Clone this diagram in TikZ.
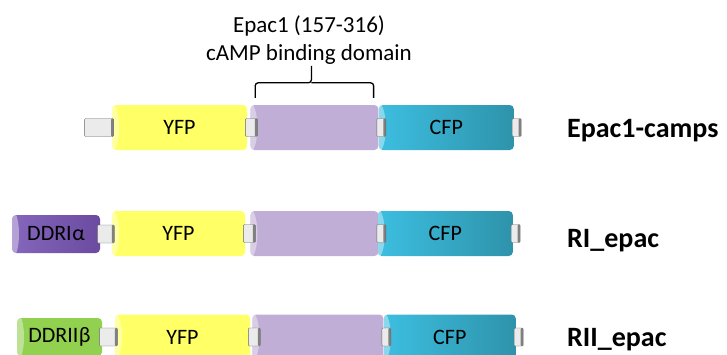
\documentclass[tikz,border=0pt]{standalone}
\usepackage{fontspec}
\setmainfont{Carlito}
\usetikzlibrary{positioning}
\definecolor{yfpcol}{HTML}{FFFF66}
\definecolor{epaccol}{HTML}{C0AED6}
\definecolor{cfpA}{HTML}{3DBEE0}
\definecolor{cfpB}{HTML}{2E93AB}
\definecolor{ddrA}{HTML}{8466BC}
\definecolor{ddrB}{HTML}{6A4BA0}
\definecolor{ddrgreen}{HTML}{92D050}

\begin{document}
\begin{tikzpicture}[x=1pt, y=-1pt,
  dom/.style={rounded corners=4pt, minimum height=45pt, inner sep=0pt, font=\fontsize{22}{24}\selectfont,
    path picture={\fill[white, opacity=.4] (path picture bounding box.west) ellipse (7pt and 24pt);}},
  ddr/.style={dom, minimum height=38pt},
  linker/.style={draw=black!60, fill=black!8, rounded corners=1pt, minimum height=18pt, inner sep=0pt,
    path picture={\fill[black!50] ([xshift=-2.5pt]path picture bounding box.north east) rectangle (path picture bounding box.south east);}},
  lbl/.style={font=\fontsize{28}{28}\selectfont\bfseries, inner sep=0pt, anchor=base west},
  bracket/.style={line width=1.3pt, rounded corners=3pt}]
\useasboundingbox (0,0) rectangle (727,354);

\node[dom, fill=yfpcol, minimum width=135pt] (YFPa) at (179.5,127.5) {YFP};
\node[dom, fill=epaccol, minimum width=128pt, right=3pt of YFPa] (EPACa) {};
\node[dom, left color=cfpA, right color=cfpB, minimum width=135pt, right=0pt of EPACa] (CFPa) {CFP};
\node[linker, minimum width=29pt, anchor=east] (Na) at ([xshift=2pt]YFPa.west) {};
\node[linker, minimum width=12pt, anchor=west] (Ma) at ([xshift=-2pt]YFPa.east) {};
\node[linker, minimum width=9pt, anchor=west] (Ka) at ([xshift=-2pt]EPACa.east) {};
\node[linker, minimum width=9pt, anchor=west] (Ca) at ([xshift=-2pt]CFPa.east) {};
\node[lbl] (NAMEa) at (567,137) {Epac1-camps};

\draw[bracket] ([xshift=5pt,yshift=7pt]EPACa.north west) |- ([xshift=-3pt,yshift=22pt]EPACa.north) -- ([xshift=-3pt,yshift=39pt]EPACa.north);
\draw[bracket] ([xshift=-5pt,yshift=7pt]EPACa.north east) |- ([xshift=-3pt,yshift=22pt]EPACa.north);
\node[font=\fontsize{23}{28}\selectfont, align=center, inner sep=0pt, anchor=base] (DOMtxt) at (309,60) {Epac1 (157-316)\\cAMP binding domain};

\node[dom, fill=yfpcol, minimum width=133pt] (YFPb) at (178.5,233.5) {YFP};
\node[dom, fill=epaccol, minimum width=128pt, right=5pt of YFPb] (EPACb) {};
\node[dom, left color=cfpA, right color=cfpB, minimum width=135pt, right=-1pt of EPACb] (CFPb) {CFP};
\node[ddr, left color=ddrA, right color=ddrB, minimum width=88pt] (DDRb) at (56,234) {DDRI\kern.5pt α};
\node[linker, minimum width=17pt, anchor=west] (Nb) at ([xshift=-3pt]DDRb.east) {};
\node[linker, minimum width=12pt, anchor=west] (Mb) at ([xshift=-2pt]YFPb.east) {};
\node[linker, minimum width=9pt, anchor=west] (Kb) at ([xshift=-2pt]EPACb.east) {};
\node[linker, minimum width=9pt, anchor=west] (Cb) at ([xshift=-2pt]CFPb.east) {};
\node[lbl] (NAMEb) at (567,247) {RI\_epac};

\node[dom, fill=yfpcol, minimum width=135pt] (YFPc) at (182.5,337) {YFP};
\node[dom, fill=epaccol, minimum width=131pt, right=2pt of YFPc] (EPACc) {};
\node[dom, left color=cfpA, right color=cfpB, minimum width=132pt, right=0pt of EPACc] (CFPc) {CFP};
\node[ddr, fill=ddrgreen, minimum width=85pt] (DDRc) at (59.5,337) {DDRII\kern.5pt β};
\node[linker, minimum width=18pt, anchor=west] (Nc) at ([xshift=-3pt]DDRc.east) {};
\node[linker, minimum width=12pt, anchor=west] (Mc) at ([xshift=-2pt]YFPc.east) {};
\node[linker, minimum width=9pt, anchor=west] (Kc) at ([xshift=-2pt]EPACc.east) {};
\node[linker, minimum width=9pt, anchor=west] (Cc) at ([xshift=-2pt]CFPc.east) {};
\node[lbl] (NAMEc) at (567,346) {RII\_epac};
\end{tikzpicture}
\end{document}
